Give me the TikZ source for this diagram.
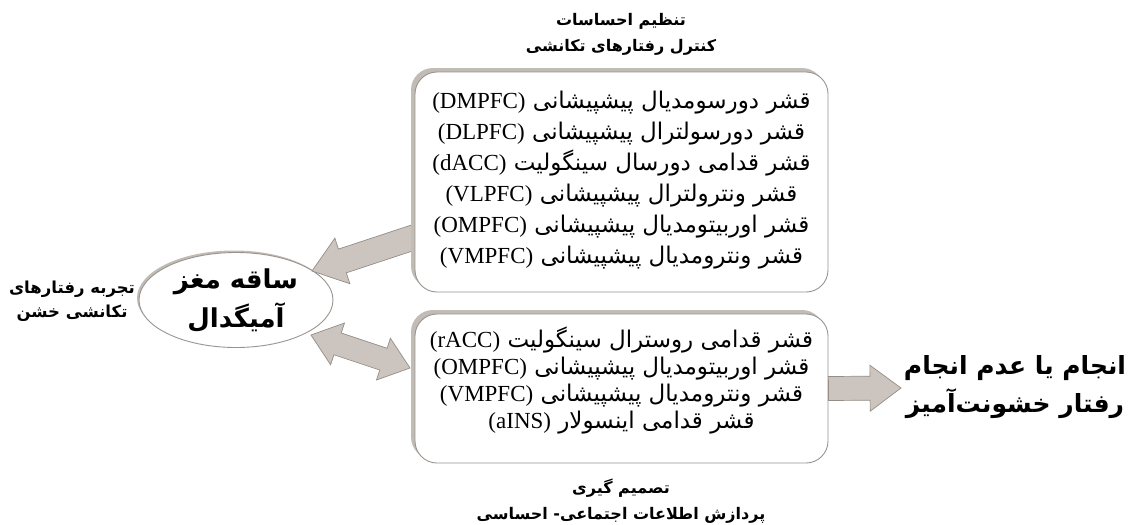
\documentclass[tikz,border=0pt]{standalone}
\usepackage{fontspec}
\usetikzlibrary{calc,shapes.geometric,shadows}
\TeXXeTstate=1
\newfontfamily\fa[Script=Arabic]{DejaVu Sans}
\newfontfamily\lat{Liberation Serif}
\definecolor{arrowfill}{HTML}{CCC4BE}
\definecolor{arrowline}{HTML}{958D87}
\definecolor{boxline}{HTML}{9A948F}
\definecolor{shadowc}{HTML}{C2BCB7}
\newcommand{\ab}[1]{\beginL{\lat #1}\endL}
\newcommand{\rl}[1]{\beginR #1\endR}
\tikzset{
  regionbox/.style={draw=boxline, line width=0.9pt, fill=white, rounded corners=22pt,
    minimum width=413pt, inner sep=0pt,
    general shadow={fill=shadowc, shadow xshift=-4pt, shadow yshift=4pt}},
  boxtext/.style={align=center, inner sep=0pt, font=\fa\fontsize{23}{31}\selectfont},
  boxtextb/.style={align=center, inner sep=0pt, font=\fa\fontsize{23}{27}\selectfont},
  hubshape/.style={ellipse, draw=boxline, line width=0.9pt, fill=white,
    minimum width=194pt, minimum height=95pt, align=center, inner sep=0pt,
    general shadow={fill=shadowc, shadow xshift=-2pt, shadow yshift=2pt},
    font=\fa\bfseries\fontsize{26}{39}\selectfont},
  headlabel/.style={align=center, font=\fa\bfseries\fontsize{16}{26}\selectfont},
  sidelabel/.style={align=center, font=\fa\bfseries\fontsize{16.5}{24}\selectfont},
  resultlabel/.style={align=center, font=\fa\bfseries\fontsize{25}{38}\selectfont},
  blockarrow/.style={fill=arrowfill, draw=arrowline, line width=0.7pt, line join=miter}
}
% single block arrow: from, to, shaft half width, head half width, head length
\newcommand{\sarrow}[5]{%
  \coordinate (hB) at ($(#2)!#5!(#1)$);
  \draw[blockarrow] ($(#1)!#3!90:(#2)$) -- ($(hB)!#3!90:(#2)$) -- ($(hB)!#4!90:(#2)$) -- (#2)
    -- ($(hB)!#4!-90:(#2)$) -- ($(hB)!#3!-90:(#2)$) -- ($(#1)!#3!-90:(#2)$) -- cycle;}
% double block arrow
\newcommand{\darrow}[5]{%
  \coordinate (hA) at ($(#1)!#5!(#2)$);
  \coordinate (hB) at ($(#2)!#5!(#1)$);
  \draw[blockarrow] (#1) -- ($(hA)!#4!90:(#2)$) -- ($(hA)!#3!90:(#2)$) -- ($(hB)!#3!90:(#2)$)
    -- ($(hB)!#4!90:(#2)$) -- (#2) -- ($(hB)!#4!-90:(#2)$) -- ($(hB)!#3!-90:(#2)$)
    -- ($(hA)!#3!-90:(#2)$) -- ($(hA)!#4!-90:(#2)$) -- cycle;}
\begin{document}
\begin{tikzpicture}[x=1pt,y=-1pt]
\useasboundingbox[fill=white] (0,0) rectangle (1136,525);

% hub
\node[hubshape] (hub) at (236,300) {\rl{ساقه مغز}\\\rl{آمیگدال}};

% anchor coordinates for connectors
\coordinate (topTail) at (418,236);
\coordinate (hubTop) at (312,271);
\coordinate (hubLow) at (311,335);
\coordinate (botTip) at (410,368);
\coordinate (resTip) at (901,388);

% arrows (drawn below the boxes)
\sarrow{topTail}{hubTop}{12.5pt}{24pt}{32pt}
\darrow{hubLow}{botTip}{11.5pt}{22pt}{28pt}

% boxes
\node[regionbox, minimum height=220pt] (top) at (621.5,182) {};
\node[regionbox, minimum height=149pt] (bot) at (621.5,388.5) {};

\node[boxtext] (toptext) at (621.5,180) {%
\rl{قشر دورسومدیال پیشپیشانی \ab{(DMPFC)}}\\
\rl{قشر دورسولترال پیشپیشانی \ab{(DLPFC)}}\\
\rl{قشر قدامی دورسال سینگولیت \ab{(dACC)}}\\
\rl{قشر ونترولترال پیشپیشانی \ab{(VLPFC)}}\\
\rl{قشر اوربیتومدیال پیشپیشانی \ab{(OMPFC)}}\\
\rl{قشر ونترومدیال پیشپیشانی \ab{(VMPFC)}}};

\node[boxtextb] (bottext) at (621.5,380) {%
\rl{قشر قدامی روسترال سینگولیت \ab{(rACC)}}\\
\rl{قشر اوربیتومدیال پیشپیشانی \ab{(OMPFC)}}\\
\rl{قشر ونترومدیال پیشپیشانی \ab{(VMPFC)}}\\
\rl{قشر قدامی اینسولار \ab{(aINS)}}};

\sarrow{bot.east}{resTip}{12pt}{23pt}{31pt}

% labels
\node[headlabel] (toplab) at (621,34) {\rl{تنظیم احساسات}\\\rl{کنترل رفتارهای تکانشی}};
\node[headlabel] (botlab) at (621,501) {\rl{تصمیم گیری}\\\rl{پردازش اطلاعات اجتماعی- احساسی}};
\node[sidelabel] (exp) at (72,301) {\rl{تجربه رفتارهای}\\\rl{تکانشی خشن}};
\node[resultlabel] (res) at (1015,387) {\rl{انجام یا عدم انجام}\\\rl{رفتار خشونت‌آمیز}};
\end{tikzpicture}
\end{document}
